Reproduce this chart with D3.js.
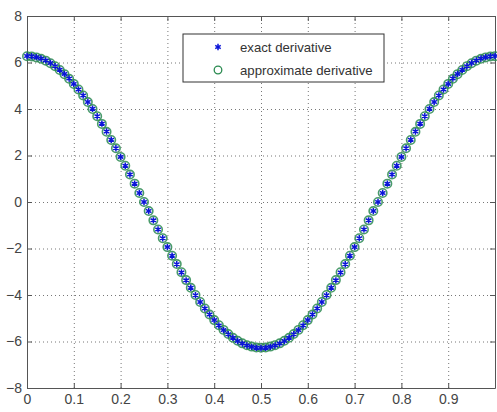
<!DOCTYPE html>
<html>
  <head>
    <meta charset="utf-8">
    <title>exact vs approximate derivative</title>
    <script src="https://d3js.org/d3.v7.min.js"></script>
    <style>
    body { margin: 0; background: #fff; }
    .axis text { font-family: 'Liberation Sans', Arial, sans-serif; font-size: 14px; fill: #444; }
    .axis path, .axis line { stroke: #555; }
    .grid line { stroke: #777; stroke-dasharray: 1,3; }
    .grid path { display: none; }
    .legend text { font-family: 'Liberation Sans', Arial, sans-serif; font-size: 13.2px; fill: #333; }
    </style>
  </head>
  <body>
    <script>

      // data (x from 0 to 1, step 0.01)
      var xs = [0.00,0.01,0.02,0.03,0.04,0.05,0.06,0.07,0.08,0.09,
                0.10,0.11,0.12,0.13,0.14,0.15,0.16,0.17,0.18,0.19,
                0.20,0.21,0.22,0.23,0.24,0.25,0.26,0.27,0.28,0.29,
                0.30,0.31,0.32,0.33,0.34,0.35,0.36,0.37,0.38,0.39,
                0.40,0.41,0.42,0.43,0.44,0.45,0.46,0.47,0.48,0.49,
                0.50,0.51,0.52,0.53,0.54,0.55,0.56,0.57,0.58,0.59,
                0.60,0.61,0.62,0.63,0.64,0.65,0.66,0.67,0.68,0.69,
                0.70,0.71,0.72,0.73,0.74,0.75,0.76,0.77,0.78,0.79,
                0.80,0.81,0.82,0.83,0.84,0.85,0.86,0.87,0.88,0.89,
                0.90,0.91,0.92,0.93,0.94,0.95,0.96,0.97,0.98,0.99,1.00];

      var exact = [6.28,6.27,6.23,6.17,6.09,5.98,5.84,5.69,5.51,5.31,
                   5.08,4.84,4.58,4.30,4.01,3.69,3.37,3.03,2.68,2.31,
                   1.94,1.56,1.18,0.79,0.39,0.00,-0.39,-0.79,-1.18,-1.56,
                   -1.94,-2.31,-2.68,-3.03,-3.37,-3.69,-4.01,-4.30,-4.58,-4.84,
                   -5.08,-5.31,-5.51,-5.69,-5.84,-5.98,-6.09,-6.17,-6.23,-6.27,
                   -6.28,-6.27,-6.23,-6.17,-6.09,-5.98,-5.84,-5.69,-5.51,-5.31,
                   -5.08,-4.84,-4.58,-4.30,-4.01,-3.69,-3.37,-3.03,-2.68,-2.31,
                   -1.94,-1.56,-1.18,-0.79,-0.39,0.00,0.39,0.79,1.18,1.56,
                   1.94,2.31,2.68,3.03,3.37,3.69,4.01,4.30,4.58,4.84,
                   5.08,5.31,5.51,5.69,5.84,5.98,6.09,6.17,6.23,6.27,6.28];

      var approx = [6.27,6.26,6.22,6.16,6.08,5.97,5.84,5.68,5.50,5.30,
                    5.08,4.84,4.58,4.30,4.00,3.69,3.36,3.02,2.67,2.31,
                    1.94,1.56,1.18,0.79,0.39,0.00,-0.39,-0.79,-1.18,-1.56,
                    -1.94,-2.31,-2.67,-3.02,-3.36,-3.69,-4.00,-4.30,-4.58,-4.84,
                    -5.08,-5.30,-5.50,-5.68,-5.84,-5.97,-6.08,-6.16,-6.22,-6.26,
                    -6.27,-6.26,-6.22,-6.16,-6.08,-5.97,-5.84,-5.68,-5.50,-5.30,
                    -5.08,-4.84,-4.58,-4.30,-4.00,-3.69,-3.36,-3.02,-2.67,-2.31,
                    -1.94,-1.56,-1.18,-0.79,-0.39,0.00,0.39,0.79,1.18,1.56,
                    1.94,2.31,2.67,3.02,3.36,3.69,4.00,4.30,4.58,4.84,
                    5.08,5.30,5.50,5.68,5.84,5.97,6.08,6.16,6.22,6.26,6.27];

      var xTicks = [0,0.1,0.2,0.3,0.4,0.5,0.6,0.7,0.8,0.9,1];
      var xTickLabels = ["0","0.1","0.2","0.3","0.4","0.5","0.6","0.7","0.8","0.9",""];
      var yTicks = [-8,-6,-4,-2,0,2,4,6,8];
      var legendLabels = ["exact derivative", "approximate derivative"];

      // setup
      var w = 497, h = 412;
      var margin = {top: 16, right: 2, bottom: 24, left: 27};
      var plotwidth = w - margin.left - margin.right;
      var plotheight = h - margin.top - margin.bottom;

      var svg = d3.select("body").append("svg")
          .attr("width", w)
          .attr("height", h);
      var plotarea = svg.append("g")
          .attr("transform", "translate(" + margin.left + "," + margin.top + ")");

      var xScale = d3.scaleLinear().domain([0, 1]).range([0, plotwidth]);
      var yScale = d3.scaleLinear().domain([-8, 8]).range([plotheight, 0]);

      // dotted grid
      plotarea.append("g").attr("class", "grid")
          .attr("transform", "translate(0," + plotheight + ")")
          .call(d3.axisBottom(xScale).tickValues(xTicks.slice(1, -1)).tickSize(-plotheight).tickFormat(""));
      plotarea.append("g").attr("class", "grid")
          .call(d3.axisLeft(yScale).tickValues(yTicks.slice(1, -1)).tickSize(-plotwidth).tickFormat(""));

      // box with inward ticks
      plotarea.append("g").attr("class", "axis")
          .attr("transform", "translate(0," + plotheight + ")")
          .call(d3.axisBottom(xScale).tickValues(xTicks).tickSizeInner(-5).tickSizeOuter(0).tickPadding(6)
            .tickFormat(function(d, i) { return xTickLabels[i]; }));
      plotarea.append("g").attr("class", "axis")
          .call(d3.axisTop(xScale).tickValues(xTicks).tickSizeInner(-5).tickSizeOuter(0).tickFormat(""));
      plotarea.append("g").attr("class", "axis")
          .call(d3.axisLeft(yScale).tickValues(yTicks).tickSizeInner(-5).tickSizeOuter(0).tickPadding(5));
      plotarea.append("g").attr("class", "axis")
          .attr("transform", "translate(" + plotwidth + ",0)")
          .call(d3.axisRight(yScale).tickValues(yTicks).tickSizeInner(-5).tickSizeOuter(0).tickFormat(""));

      // approximate derivative: green circles
      plotarea.append("g").selectAll("circle")
          .data(approx)
          .enter().append("circle")
          .attr("cx", function(d, i) { return xScale(xs[i]); })
          .attr("cy", function(d) { return yScale(d); })
          .attr("r", 4.2)
          .attr("fill", "none")
          .attr("stroke", "#2a8a50")
          .attr("stroke-width", 1.6)
          .attr("stroke-opacity", 0.85);

      // exact derivative: blue asterisks
      var star = d3.symbol().type(d3.symbolAsterisk).size(28);
      plotarea.append("g").selectAll("path")
          .data(exact)
          .enter().append("path")
          .attr("transform", function(d, i) { return "translate(" + xScale(xs[i]) + "," + yScale(d) + ")"; })
          .attr("d", star)
          .attr("fill", "none")
          .attr("stroke", "#0a14d8")
          .attr("stroke-width", 1.5);

      // legend
      var legend = svg.append("g").attr("class", "legend")
          .attr("transform", "translate(183,34)");
      legend.append("rect")
          .attr("width", 201).attr("height", 48)
          .attr("fill", "#fff").attr("stroke", "#333").attr("stroke-width", 1);
      legend.append("path")
          .attr("transform", "translate(35,13)")
          .attr("d", star)
          .attr("fill", "none").attr("stroke", "#0a14d8").attr("stroke-width", 1.5);
      legend.append("circle")
          .attr("cx", 35).attr("cy", 36).attr("r", 3.8)
          .attr("fill", "none").attr("stroke", "#2a8a50").attr("stroke-width", 1.3);
      legend.selectAll("text")
          .data(legendLabels)
          .enter().append("text")
          .attr("x", 57)
          .attr("y", function(d, i) { return 13 + i * 23; })
          .attr("dy", "0.35em")
          .text(function(d) { return d; });

    </script>
  </body>
</html>
